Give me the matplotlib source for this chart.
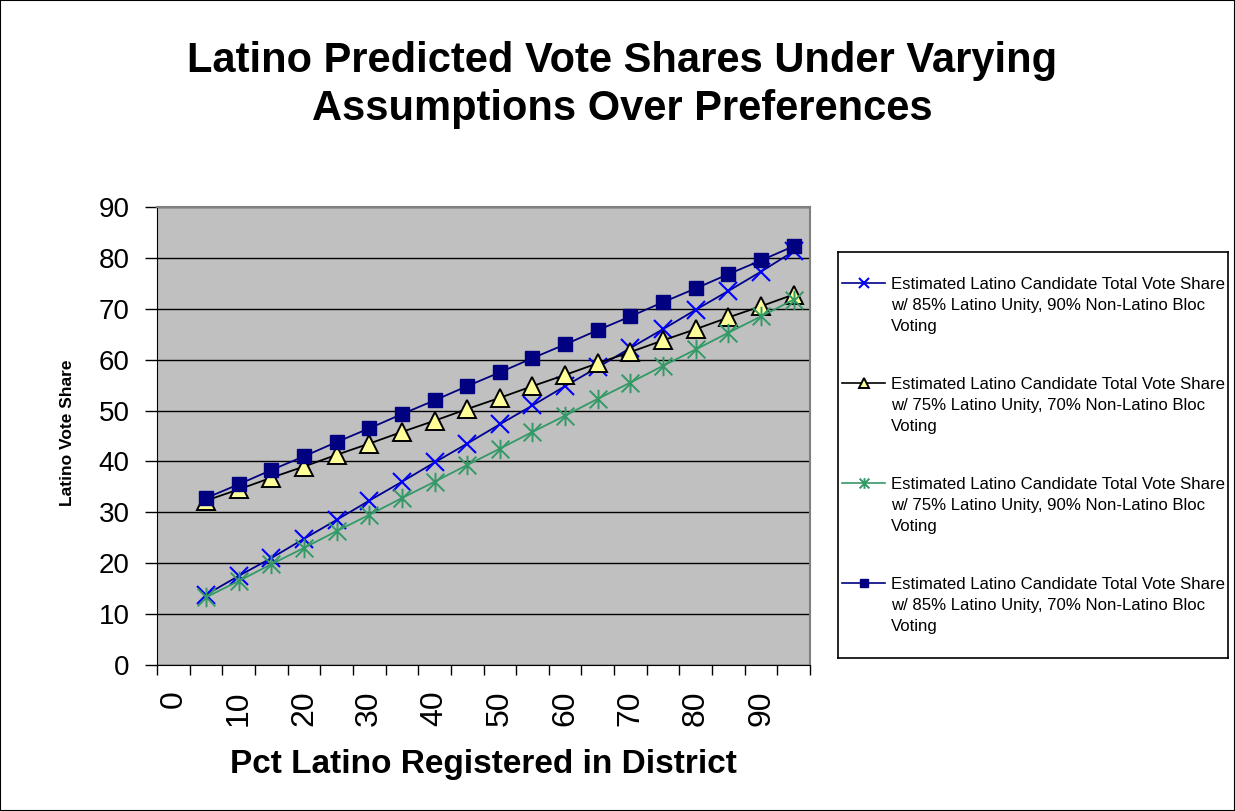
import matplotlib
matplotlib.use("Agg")
import matplotlib.pyplot as plt
from matplotlib.path import Path
from matplotlib.patches import Rectangle

plt.rcParams['font.family'] = ['Liberation Sans', 'DejaVu Sans']

# category axis runs 0..95 in steps of 5, the 0 category has no data
categories = list(range(0, 100, 5))
pct_latino = [5, 10, 15, 20, 25, 30, 35, 40, 45, 50, 55, 60, 65, 70, 75, 80, 85, 90, 95]

share_85_90 = [13.8, 17.5, 21.0, 24.8, 28.5, 32.3, 36.0, 39.8, 43.5, 47.3, 51.0, 54.8, 58.5, 62.3, 66.0, 69.8, 73.5, 77.3, 81.3]
share_75_70 = [32.3, 34.5, 36.8, 39.0, 41.3, 43.5, 45.8, 48.0, 50.3, 52.5, 54.8, 57.0, 59.3, 61.5, 63.8, 66.0, 68.3, 70.5, 72.8]
share_75_90 = [13.3, 16.5, 19.8, 23.0, 26.3, 29.5, 32.8, 36.0, 39.3, 42.5, 45.8, 49.0, 52.3, 55.5, 58.8, 62.0, 65.3, 68.5, 71.8]
share_85_70 = [32.8, 35.5, 38.3, 41.0, 43.8, 46.5, 49.3, 52.0, 54.8, 57.5, 60.3, 63.0, 65.8, 68.5, 71.3, 74.0, 76.8, 79.5, 82.3]

labels = [
    "Estimated Latino Candidate Total Vote Share\nw/ 85% Latino Unity, 90% Non-Latino Bloc\nVoting",
    "Estimated Latino Candidate Total Vote Share\nw/ 75% Latino Unity, 70% Non-Latino Bloc\nVoting",
    "Estimated Latino Candidate Total Vote Share\nw/ 75% Latino Unity, 90% Non-Latino Bloc\nVoting",
    "Estimated Latino Candidate Total Vote Share\nw/ 85% Latino Unity, 70% Non-Latino Bloc\nVoting",
]

# asterisk marker: an X with a vertical bar through it
star = Path([(-1, -1), (1, 1), (-1, 1), (1, -1), (0, -1.1), (0, 1.1)],
            [Path.MOVETO, Path.LINETO, Path.MOVETO, Path.LINETO, Path.MOVETO, Path.LINETO])

styles = [
    dict(color='#00008C', marker='x', markersize=12.5, markeredgewidth=1.5,
         markeredgecolor='#0000FF'),
    dict(color='black', marker='^', markersize=13, markerfacecolor='#FFFF99',
         markeredgecolor='black', markeredgewidth=1.4),
    dict(color='#339966', marker=star, markersize=14, markeredgewidth=1.4),
    dict(color='#000080', marker='s', markersize=9.5, markerfacecolor='#000080',
         markeredgecolor='#000080'),
]
series = [share_85_90, share_75_70, share_75_90, share_85_70]

W, H = 1235, 811
fig = plt.figure(figsize=(W / 100, H / 100), dpi=100)
fig.patches.append(Rectangle((0, 0), 1, 1, transform=fig.transFigure,
                             fill=False, edgecolor='black', linewidth=1.5))

ax = fig.add_axes([157 / W, 1 - 665 / H, (810 - 157) / W, (665 - 207) / H])
ax.set_facecolor('#C0C0C0')

for vals, st in zip(series, styles):
    ax.plot(pct_latino, vals, linewidth=1.3, **st)

ax.set_ylim(0, 90)
ax.set_yticks(range(0, 100, 10))
ax.yaxis.grid(True, color='black', linewidth=1)
ax.set_axisbelow(True)
ax.tick_params(axis='y', labelsize=20, length=8.6, width=1, direction='out', pad=11)

ax.set_xlim(categories[0] - 2.5, categories[-1] + 2.5)
ax.set_xticks(categories[::2])
ax.set_xticklabels([str(c) for c in categories[::2]], rotation=90, fontsize=23)
ax.set_xticks([c - 2.5 for c in categories] + [categories[-1] + 2.5], minor=True)
ax.tick_params(axis='x', which='major', length=0, pad=18)
ax.tick_params(axis='x', which='minor', length=7.2, width=1, direction='out')

for side in ['top', 'right']:
    ax.spines[side].set_color('#808080')
    ax.spines[side].set_linewidth(1.5)
for side in ['left', 'bottom']:
    ax.spines[side].set_color('black')

fig.text(483 / W, 1 - 765 / H, "Pct Latino Registered in District",
         ha='center', va='center', fontsize=24, fontweight='bold')
fig.text(67 / W, 1 - 433 / H, "Latino Vote Share", rotation=90,
         ha='center', va='center', fontsize=12.5, fontweight='bold')

fig.text(622 / W, 1 - 85 / H,
         "Latino Predicted Vote Shares Under Varying\nAssumptions Over Preferences",
         ha='center', va='center', fontsize=30, fontweight='bold', linespacing=1.25)

# legend box drawn in its own pixel-space axes
lx0, ly0, lx1, ly1 = 838, 252, 1228, 658
lax = fig.add_axes([lx0 / W, 1 - ly1 / H, (lx1 - lx0) / W, (ly1 - ly0) / H])
lax.set_xlim(0, lx1 - lx0)
lax.set_ylim(ly1 - ly0, 0)
lax.set_xticks([])
lax.set_yticks([])
for sp in lax.spines.values():
    sp.set_linewidth(1.2)
    sp.set_color('black')

for i, (lab, st) in enumerate(zip(labels, styles)):
    y = 31 + 100 * i
    s = dict(st)
    s['markersize'] = s['markersize'] * 0.55
    lax.plot([4, 25.5, 47], [y, y, y], linewidth=1.2, markevery=[1], **s)
    lax.text(53, y - 6, lab, fontsize=12.1, va='top', ha='left', linespacing=1.5)

fig.savefig("out.png", dpi=100)
